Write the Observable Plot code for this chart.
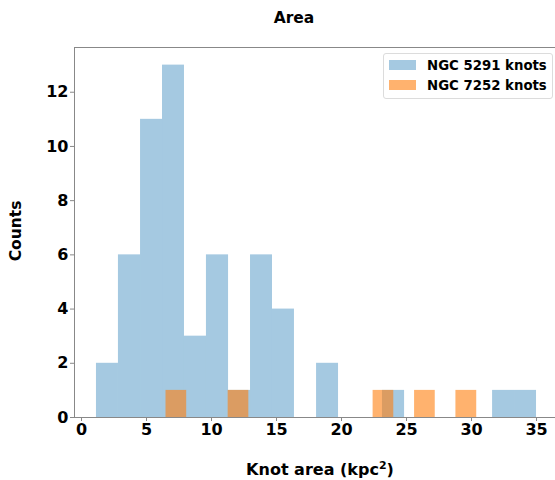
<!DOCTYPE html>
<html>
<head>
<meta charset="utf-8">
<script src="https://cdn.jsdelivr.net/npm/d3@7"></script>
<script src="https://cdn.jsdelivr.net/npm/@observablehq/plot@0.6"></script>
<style>
  html, body { margin: 0; padding: 0; background: white; }
  #wrap { position: relative; width: 555px; height: 480px; overflow: hidden; font-family: "DejaVu Sans", sans-serif; font-weight: bold; color: #000; }
  #chart svg { display: block; }
  .lbl { position: absolute; white-space: nowrap; font-weight: bold; }
  #title { left: 294px; top: 18px; transform: translate(-50%, -50%); font-size: 15.5px; }
  #ylabel { left: 16px; top: 231px; transform: translate(-50%, -50%) rotate(-90deg); font-size: 15.5px; }
  #xlabel { left: 320px; top: 469px; transform: translate(-50%, -50%); font-size: 16px; }
  #xlabel sup { font-size: 11px; vertical-align: 6px; line-height: 0; }
  #legend { position: absolute; left: 383px; top: 53px; width: 168px; height: 44px; border: 1px solid #dcdcdc; border-radius: 3px; background: rgba(255,255,255,0.85); }
  .row { position: absolute; left: 5px; height: 12px; display: flex; align-items: center; font-size: 13.3px; white-space: nowrap; }
  .sw { width: 27px; height: 10px; margin-right: 11px; flex: none; }
  svg g[aria-label="x-axis"] line, svg g[aria-label="y-axis"] line,
  svg g[aria-label="x-axis tick"] path, svg g[aria-label="y-axis tick"] path { stroke: #888; }
</style>
</head>
<body>
<div id="wrap">
  <div id="chart"></div>
  <div id="title" class="lbl">Area</div>
  <div id="ylabel" class="lbl">Counts</div>
  <div id="xlabel" class="lbl">Knot area (kpc<sup>2</sup>)</div>
  <div id="legend"></div>
</div>
<script>
// NGC 5291 knots histogram (bin edges and counts)
const blueEdges = [1.15, 2.84, 4.54, 6.23, 7.92, 9.61, 11.31, 13.00, 14.69, 16.38, 18.08,
                   19.77, 21.46, 23.15, 24.85, 26.54, 28.23, 29.92, 31.62, 33.31, 35.00];
const blueCounts = [2, 6, 11, 13, 3, 6, 1, 6, 4, 0, 2, 0, 0, 1, 0, 0, 0, 0, 1, 1];

// NGC 7252 knots histogram
const orangeEdges = [6.50, 8.09, 9.69, 11.28, 12.87, 14.47, 16.06, 17.65, 19.24, 20.84,
                     22.43, 24.02, 25.62, 27.21, 28.80, 30.40];
const orangeCounts = [1, 0, 0, 1, 0, 0, 0, 0, 0, 0, 1, 0, 1, 0, 1];

const seriesNames = ["NGC 5291 knots", "NGC 7252 knots"];
const seriesColors = ["#1f77b4", "#ff7f0e"];
const seriesOpacity = [0.4, 0.6];

const xTicks = [0, 5, 10, 15, 20, 25, 30, 35];
const yTicks = [0, 2, 4, 6, 8, 10, 12];

const xDomain = [-0.54, 36.46];
const yDomain = [0, 13.65];

function toBins(edges, counts, name) {
  return counts.map((c, i) => ({x1: edges[i], x2: edges[i + 1], count: c, series: name}))
               .filter(d => d.count > 0);
}
const blueBins = toBins(blueEdges, blueCounts, seriesNames[0]);
const orangeBins = toBins(orangeEdges, orangeCounts, seriesNames[1]);

const chart = Plot.plot({
  width: 555,
  height: 480,
  marginTop: 47,
  marginBottom: 63,
  marginLeft: 74,
  marginRight: 0,
  style: {fontFamily: "DejaVu Sans", fontSize: "16px", fontWeight: "bold", background: "white", color: "#000"},
  x: {domain: xDomain, ticks: xTicks, tickSize: 4, tickPadding: 2, label: null, tickFormat: d => String(d)},
  y: {domain: yDomain, ticks: yTicks, tickSize: 4, tickPadding: 2, label: null, tickFormat: d => String(d)},
  marks: [
    Plot.rect(blueBins, {x1: "x1", x2: "x2", y1: d => 0, y2: "count", fill: seriesColors[0], fillOpacity: seriesOpacity[0], inset: 0}),
    Plot.rect(orangeBins, {x1: "x1", x2: "x2", y1: d => 0, y2: "count", fill: seriesColors[1], fillOpacity: seriesOpacity[1], inset: 0}),
    Plot.ruleX([xDomain[0]], {stroke: "#888", strokeWidth: 1}),
    Plot.ruleY([yDomain[0]], {stroke: "#888", strokeWidth: 1}),
    Plot.ruleY([yDomain[1]], {stroke: "#888", strokeWidth: 1})
  ]
});
document.getElementById("chart").appendChild(chart);

// legend
const legend = document.getElementById("legend");
seriesNames.forEach((name, i) => {
  const row = document.createElement("div");
  row.className = "row";
  row.style.top = (5 + i * 20) + "px";
  const sw = document.createElement("div");
  sw.className = "sw";
  sw.style.background = seriesColors[i];
  sw.style.opacity = seriesOpacity[i];
  const t = document.createElement("span");
  t.textContent = name;
  row.appendChild(sw);
  row.appendChild(t);
  legend.appendChild(row);
});
</script>
</body>
</html>
